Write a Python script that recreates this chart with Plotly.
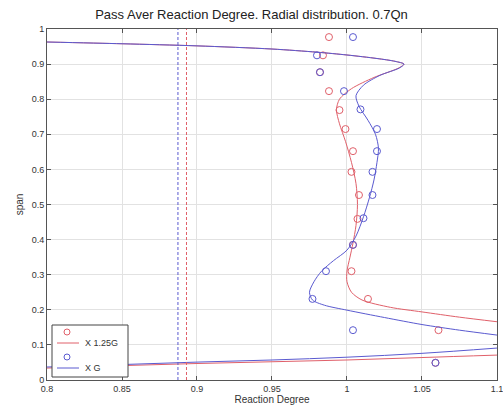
import plotly.graph_objects as go

# ---- data ----
red_pts_x = [0.988, 0.984, 0.982, 0.988, 0.995, 0.999, 1.004, 1.003, 1.008, 1.007, 1.004, 1.003, 1.014, 1.061, 1.059]
red_pts_y = [0.977, 0.925, 0.877, 0.823, 0.769, 0.715, 0.652, 0.593, 0.527, 0.459, 0.385, 0.310, 0.231, 0.142, 0.049]
blue_pts_x = [1.004, 0.980, 0.982, 0.998, 1.009, 1.020, 1.020, 1.017, 1.017, 1.011, 1.004, 0.986, 0.977, 1.004, 1.059]
blue_pts_y = [0.977, 0.925, 0.877, 0.823, 0.771, 0.715, 0.652, 0.593, 0.527, 0.461, 0.385, 0.310, 0.231, 0.142, 0.049]

red_curve_x = [0.8, 0.85, 0.9, 0.95, 0.98, 1.0, 1.02, 1.032, 1.038, 1.034, 1.018, 1.003, 0.995, 0.993, 0.995,
               0.999, 1.003, 1.006, 1.007, 1.006, 1.004, 1.002, 1.0, 1.0, 1.003, 1.01, 1.029, 1.05, 1.075, 1.1]
red_curve_y = [0.963, 0.958, 0.952, 0.943, 0.934, 0.926, 0.916, 0.908, 0.900, 0.888, 0.862, 0.830, 0.800, 0.770, 0.730,
               0.680, 0.620, 0.560, 0.500, 0.440, 0.390, 0.350, 0.310, 0.280, 0.250, 0.228, 0.207, 0.194, 0.179, 0.166]
blue_curve_x = [0.8, 0.85, 0.9, 0.95, 0.98, 1.0, 1.02, 1.032, 1.038, 1.035, 1.022, 1.011, 1.006, 1.008, 1.014,
                1.019, 1.021, 1.020, 1.018, 1.015, 1.011, 1.006, 1.0, 0.991, 0.983, 0.978, 0.975, 0.977, 0.985,
                1.0, 1.025, 1.05, 1.075, 1.1]
blue_curve_y = [0.963, 0.958, 0.952, 0.943, 0.934, 0.926, 0.916, 0.908, 0.900, 0.889, 0.868, 0.840, 0.810, 0.780, 0.740,
                0.700, 0.660, 0.620, 0.570, 0.520, 0.465, 0.410, 0.370, 0.340, 0.310, 0.280, 0.250, 0.228, 0.213,
                0.199, 0.178, 0.158, 0.142, 0.128]
red_low_x = [0.8, 0.85, 0.9, 0.95, 1.0, 1.05, 1.1]
red_low_y = [0.034, 0.041, 0.047, 0.052, 0.057, 0.064, 0.071]
blue_low_x = [0.8, 0.85, 0.9, 0.95, 1.0, 1.05, 1.1]
blue_low_y = [0.037, 0.044, 0.051, 0.057, 0.065, 0.076, 0.091]

red_avg = 0.893
blue_avg = 0.8873

series_names = ["X 1.25G", "X G"]

x_ticks = [0.8, 0.85, 0.9, 0.95, 1.0, 1.05, 1.1]
x_tick_labels = ["0.8", "0.85", "0.9", "0.95", "1", "1.05", "1.1"]
y_ticks = [0, 0.1, 0.2, 0.3, 0.4, 0.5, 0.6, 0.7, 0.8, 0.9, 1.0]
y_tick_labels = ["0", "0.1", "0.2", "0.3", "0.4", "0.5", "0.6", "0.7", "0.8", "0.9", "1"]

RED = "#e0606a"
BLUE = "#5a5ad0"
FONT = "Liberation Sans, Arial"

fig = go.Figure()
fig.add_trace(go.Scatter(x=red_pts_x, y=red_pts_y, mode="markers", showlegend=False,
                         marker=dict(symbol="circle-open", size=7, color=RED, line=dict(width=1))))
fig.add_trace(go.Scatter(x=red_curve_x, y=red_curve_y, mode="lines", showlegend=False, name=series_names[0],
                         line=dict(color=RED, width=1, shape="spline", smoothing=0.8)))
fig.add_trace(go.Scatter(x=blue_pts_x, y=blue_pts_y, mode="markers", showlegend=False,
                         marker=dict(symbol="circle-open", size=7, color=BLUE, line=dict(width=1))))
fig.add_trace(go.Scatter(x=blue_curve_x, y=blue_curve_y, mode="lines", showlegend=False, name=series_names[1],
                         line=dict(color=BLUE, width=1, shape="spline", smoothing=0.8)))
fig.add_trace(go.Scatter(x=red_low_x, y=red_low_y, mode="lines", showlegend=False,
                         line=dict(color=RED, width=1, shape="spline")))
fig.add_trace(go.Scatter(x=blue_low_x, y=blue_low_y, mode="lines", showlegend=False,
                         line=dict(color=BLUE, width=1, shape="spline")))
fig.add_trace(go.Scatter(x=[blue_avg, blue_avg], y=[0, 1], mode="lines", showlegend=False,
                         line=dict(color=BLUE, width=1, dash="3px,2px")))
fig.add_trace(go.Scatter(x=[red_avg, red_avg], y=[0, 1], mode="lines", showlegend=False,
                         line=dict(color=RED, width=1, dash="3px,2px")))

axis_common = dict(showgrid=True, gridcolor="#e2e2e2", gridwidth=1, zeroline=False,
                   showline=True, linecolor="#555", linewidth=1, mirror="ticks",
                   ticks="inside", ticklen=4, tickcolor="#555", ticklabeloverflow="allow",
                   automargin=False,
                   tickfont=dict(family=FONT, size=9, color="#333"))
fig.update_xaxes(range=[0.8, 1.10002], tickvals=x_ticks, ticktext=x_tick_labels,
                 title=dict(text="Reaction Degree", font=dict(family=FONT, size=10, color="#333"), standoff=2),
                 **axis_common)
fig.update_yaxes(range=[0, 1.00005], tickvals=y_ticks, ticktext=y_tick_labels,
                 title=dict(text="span", font=dict(family=FONT, size=10, color="#333"), standoff=6),
                 **axis_common)

# ---- hand-built MATLAB-style legend (paper coordinates of the plot area) ----
def px(xp):
    return (xp - 47) / 450.0

def py(yp):
    return (380 - yp) / 351.0

shapes = [dict(type="rect", xref="paper", yref="paper", x0=px(52), x1=px(128), y0=py(377), y1=py(325),
               line=dict(color="#444", width=1), fillcolor="white", layer="above")]
annotations = []
for i, (col, name) in enumerate([(RED, series_names[0]), (BLUE, series_names[1])]):
    yc = 332 + 25 * i
    yl = 343 + 25 * i
    shapes.append(dict(type="circle", xref="paper", yref="paper", x0=px(64), x1=px(70), y0=py(yc + 3), y1=py(yc - 3),
                       line=dict(color=col, width=1), layer="above"))
    shapes.append(dict(type="line", xref="paper", yref="paper", x0=px(57), x1=px(79), y0=py(yl), y1=py(yl),
                       line=dict(color=col, width=1), layer="above"))
    annotations.append(dict(xref="paper", yref="paper", x=px(83), y=py(yl), text=name, showarrow=False,
                            xanchor="left", yanchor="middle", font=dict(family=FONT, size=9, color="#333")))

fig.update_layout(
    width=503, height=412,
    margin=dict(l=47, r=6, t=29, b=32),
    paper_bgcolor="white", plot_bgcolor="white",
    title=dict(text="Pass Aver Reaction Degree. Radial distribution. 0.7Qn",
               x=0.5, xanchor="center", y=0.975, yanchor="top",
               font=dict(family=FONT, size=13, color="#222")),
    shapes=shapes, annotations=annotations,
    showlegend=False,
)

fig.write_html("out.html")
